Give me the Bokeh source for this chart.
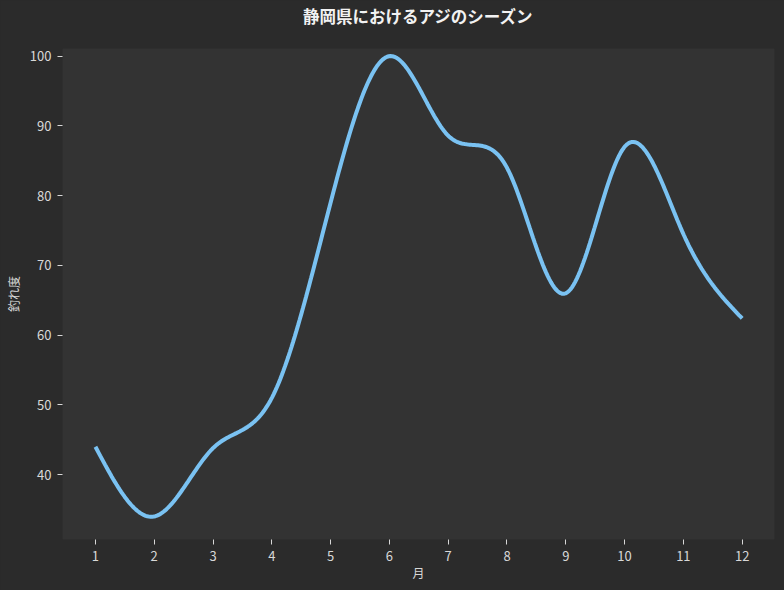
import numpy as np
from bokeh.plotting import figure
from bokeh.models import Range1d, FixedTicker, Title
from bokeh.embed import file_html
from bokeh.resources import INLINE

# Data
months = [1, 2, 3, 4, 5, 6, 7, 8, 9, 10, 11, 12]
catch_index = [44.0, 34.0, 43.8, 51.0, 79.0, 100.0, 88.6, 84.0, 66.0, 87.0, 74.5, 62.4]
x_ticks = [1, 2, 3, 4, 5, 6, 7, 8, 9, 10, 11, 12]
y_ticks = [40, 50, 60, 70, 80, 90, 100]

title_text = "静岡県におけるアジのシーズン"
x_label = "月"
y_label = "釣れ度"

FONT = "Noto Sans CJK JP"


def smooth_curve(xs, ys, samples=400):
    """Natural cubic spline through the data points (rendering only)."""
    x = np.asarray(xs, dtype=float)
    y = np.asarray(ys, dtype=float)
    n = len(x)
    h = x[1] - x[0]
    A = np.zeros((n, n))
    b = np.zeros(n)
    A[0, 0] = 1
    A[-1, -1] = 1
    for i in range(1, n - 1):
        A[i, i - 1], A[i, i], A[i, i + 1] = 1, 4, 1
        b[i] = 6.0 / h ** 2 * (y[i - 1] - 2 * y[i] + y[i + 1])
    M = np.linalg.solve(A, b)
    xx = np.linspace(x[0], x[-1], samples)
    idx = np.clip(((xx - x[0]) // h).astype(int), 0, n - 2)
    x0 = x[idx]
    x1 = x[idx + 1]
    yy = (M[idx] * (x1 - xx) ** 3 / (6 * h) + M[idx + 1] * (xx - x0) ** 3 / (6 * h)
          + (y[idx] / h - M[idx] * h / 6) * (x1 - xx)
          + (y[idx + 1] / h - M[idx + 1] * h / 6) * (xx - x0))
    return xx, yy


BG = "#2b2b2b"
PLOT_BG = "#333333"
TXT = "#d8d8d8"

p = figure(width=784, height=590, output_backend="svg", toolbar_location=None,
           x_range=Range1d(0.44, 12.55), y_range=Range1d(30.7, 101.1),
           background_fill_color=PLOT_BG, border_fill_color=BG,
           min_border_left=62, min_border_right=10, min_border_top=48, min_border_bottom=51)

p.outline_line_color = None
p.grid.visible = False

# blank spacer title next to the frame, then the real title above it
p.add_layout(Title(text=" ", text_font=FONT, text_font_size="13px", standoff=0,
                   text_color=BG), "above")
p.add_layout(Title(text=title_text, align="center", vertical_align="bottom",
                   text_font=FONT, text_font_size="16.5px", text_font_style="bold",
                   text_color="#f2f2f2", standoff=0, offset=0), "above")

xx, yy = smooth_curve(months, catch_index)
p.line(xx, yy, line_color="#7ac2f2", line_width=4)

for ax in (p.xaxis[0], p.yaxis[0]):
    ax.axis_line_color = None
    ax.major_tick_line_color = TXT
    ax.major_tick_out = 5
    ax.major_tick_in = 0
    ax.minor_tick_line_color = None
    ax.major_label_text_color = TXT
    ax.major_label_text_font = FONT
    ax.major_label_text_font_size = "13px"
    ax.major_label_standoff = 6
    ax.axis_label_text_color = TXT
    ax.axis_label_text_font = FONT
    ax.axis_label_text_font_size = "12px"
    ax.axis_label_text_font_style = "normal"

p.xaxis.ticker = FixedTicker(ticks=x_ticks)
p.yaxis.ticker = FixedTicker(ticks=y_ticks)
p.xaxis.axis_label = x_label
p.yaxis.axis_label = y_label
p.xaxis.axis_label_standoff = 0
p.yaxis.axis_label_standoff = 5

html = file_html(p, INLINE)
html = html.replace("</head>", "<style>html,body{background:%s !important;}</style></head>" % BG, 1)
open("out.html", "w").write(html)
